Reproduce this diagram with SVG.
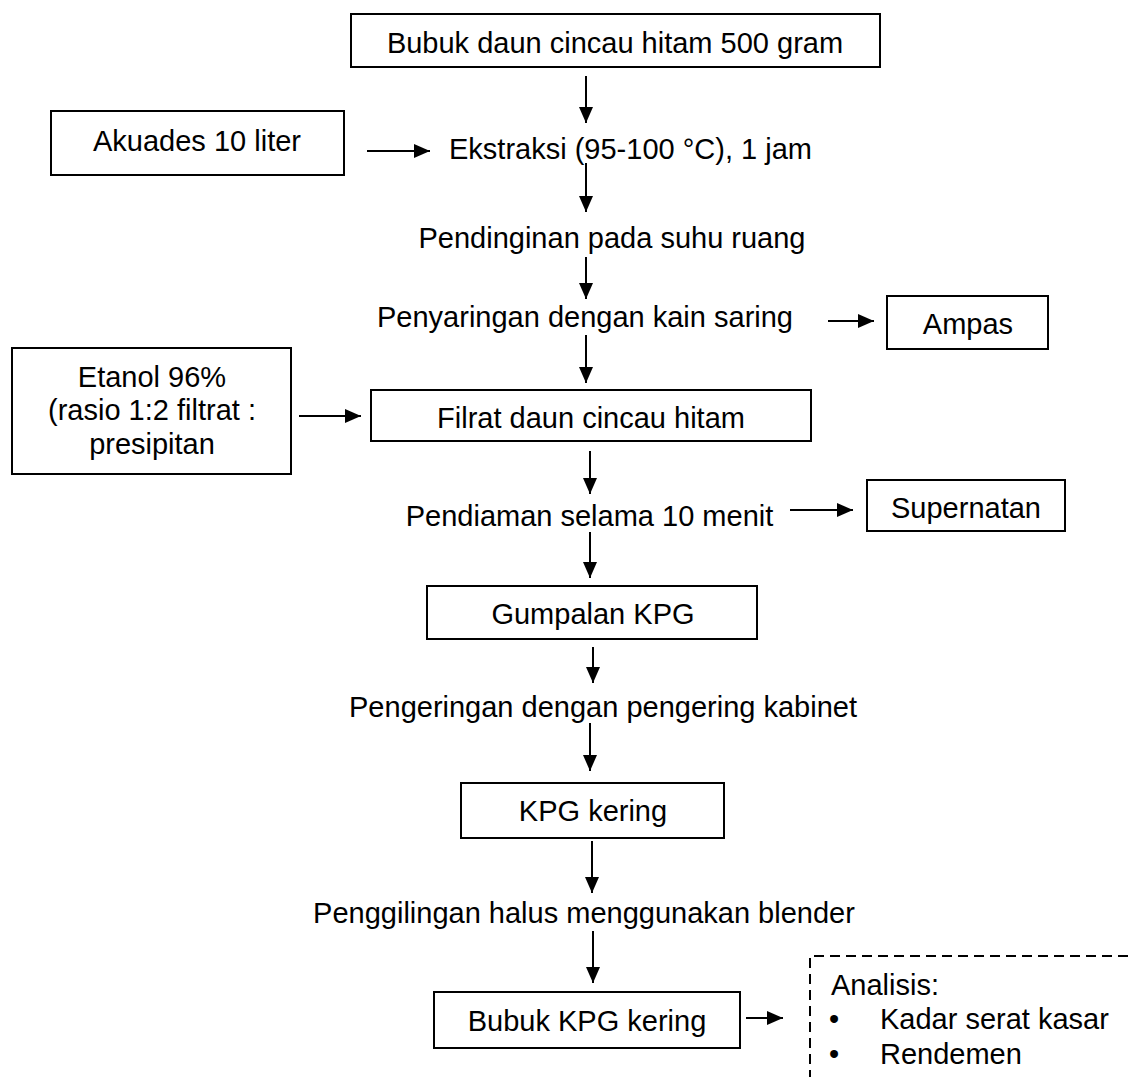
<svg xmlns="http://www.w3.org/2000/svg" width="1128" height="1077" viewBox="0 0 1128 1077">
<style>
  .box{fill:#fff;stroke:#000;stroke-width:2}
  .t{font-family:"Liberation Sans",Arial,sans-serif;font-size:29px;fill:#000}
  .c{text-anchor:middle}
  .ln{stroke:#000;stroke-width:2;fill:none;marker-end:url(#ah)}
  .dash{stroke:#000;stroke-width:2;fill:none;stroke-dasharray:10 6}
</style>
<defs>
  <marker id="ah" viewBox="0 0 16 14" refX="16" refY="7" markerWidth="16" markerHeight="14" markerUnits="userSpaceOnUse" orient="auto">
    <path d="M0,0 L16,7 L0,14 z" fill="#000"/>
  </marker>
</defs>
<rect width="1128" height="1077" fill="#fff"/>

<g id="connectors">
  <line class="ln" x1="586" y1="76" x2="586" y2="123"/>
  <line class="ln" x1="367" y1="151" x2="430" y2="151"/>
  <line class="ln" x1="586" y1="163" x2="586" y2="212"/>
  <line class="ln" x1="586" y1="257" x2="586" y2="299"/>
  <line class="ln" x1="828" y1="321" x2="874" y2="321"/>
  <line class="ln" x1="586" y1="335" x2="586" y2="383"/>
  <line class="ln" x1="299" y1="416" x2="361" y2="416"/>
  <line class="ln" x1="590" y1="451" x2="590" y2="494"/>
  <line class="ln" x1="790" y1="510" x2="853" y2="510"/>
  <line class="ln" x1="590" y1="532" x2="590" y2="578"/>
  <line class="ln" x1="593" y1="647" x2="593" y2="683"/>
  <line class="ln" x1="590" y1="723" x2="590" y2="771"/>
  <line class="ln" x1="592" y1="841" x2="592" y2="893"/>
  <line class="ln" x1="593" y1="931" x2="593" y2="983"/>
  <line class="ln" x1="746" y1="1018" x2="783" y2="1018"/>
</g>

<g id="bubuk-daun">
  <rect class="box" x="351" y="14" width="529" height="53"/>
  <text class="t c" x="615" y="53">Bubuk daun cincau hitam 500 gram</text>
</g>
<g id="akuades">
  <rect class="box" x="51" y="111" width="293" height="64"/>
  <text class="t c" x="197" y="151">Akuades 10 liter</text>
</g>
<g id="ekstraksi">
  <text class="t" x="449" y="159">Ekstraksi (95-100 °C), 1 jam</text>
</g>
<g id="pendinginan">
  <text class="t c" x="612" y="248">Pendinginan pada suhu ruang</text>
</g>
<g id="penyaringan">
  <text class="t c" x="585" y="327">Penyaringan dengan kain saring</text>
</g>
<g id="ampas">
  <rect class="box" x="887" y="296" width="161" height="53"/>
  <text class="t c" x="968" y="334">Ampas</text>
</g>
<g id="etanol">
  <rect class="box" x="12" y="348" width="279" height="126"/>
  <text class="t c" x="152" y="387">Etanol 96%</text>
  <text class="t c" x="152" y="420">(rasio 1:2 filtrat :</text>
  <text class="t c" x="152" y="454">presipitan</text>
</g>
<g id="filrat">
  <rect class="box" x="371" y="390" width="440" height="51"/>
  <text class="t c" x="591" y="428">Filrat daun cincau hitam</text>
</g>
<g id="pendiaman">
  <text class="t c" x="589.5" y="526">Pendiaman selama 10 menit</text>
</g>
<g id="supernatan">
  <rect class="box" x="867" y="480" width="198" height="51"/>
  <text class="t c" x="966" y="518">Supernatan</text>
</g>
<g id="gumpalan">
  <rect class="box" x="427" y="586" width="330" height="53"/>
  <text class="t c" x="593" y="624">Gumpalan KPG</text>
</g>
<g id="pengeringan">
  <text class="t c" x="603" y="717">Pengeringan dengan pengering kabinet</text>
</g>
<g id="kpg-kering">
  <rect class="box" x="461" y="783" width="263" height="55"/>
  <text class="t c" x="593" y="821">KPG kering</text>
</g>
<g id="penggilingan">
  <text class="t c" x="584" y="923">Penggilingan halus menggunakan blender</text>
</g>
<g id="bubuk-kpg">
  <rect class="box" x="434" y="992" width="306" height="56"/>
  <text class="t c" x="587" y="1031">Bubuk KPG kering</text>
</g>
<g id="analisis">
  <path class="dash" d="M1128,956 H810 V1077"/>
  <text class="t" x="831" y="995">Analisis:</text>
  <text class="t" x="829" y="1029">•</text>
  <text class="t" x="880" y="1029">Kadar serat kasar</text>
  <text class="t" x="829" y="1064">•</text>
  <text class="t" x="880" y="1064">Rendemen</text>
</g>
</svg>
